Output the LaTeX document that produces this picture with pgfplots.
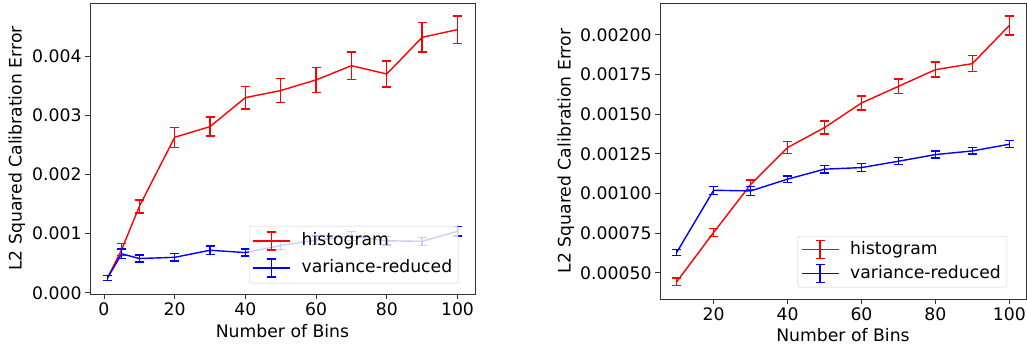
\documentclass[border=0pt]{standalone}
\usepackage{fontspec}
\setmainfont{DejaVu Sans}
\usepackage{pgfplots}
\pgfplotsset{compat=1.18}
\newcommand{\fs}{\fontsize{17.3}{20}\selectfont}
\pgfplotsset{
  myaxis/.style={
    scale only axis,
    axis line style={black!80, line width=0.8bp},
    tick align=outside,
    tick pos=left,
    major tick length=5bp,
    tick style={black!80, line width=0.8bp},
    tick label style={font=\fs},
    /pgf/number format/assume math mode=true,
    scaled y ticks=false,
    xtick={0,20,40,60,80,100},
    xlabel={Number of Bins},
    ylabel={L2 Squared Calibration Error},
    legend cell align=left,
    legend style={font=\fs, draw=black!20, rounded corners=2bp, fill=white,
      fill opacity=0.8, text opacity=1,
      inner xsep=3bp, inner ysep=1.5bp, column sep=8bp},
    legend image code/.code={
      \draw[line width=1.4bp, ##1] (0bp,0bp) -- (37bp,0bp);
      \draw[line width=1.4bp, ##1] (18.5bp,-9bp) -- (18.5bp,9bp);
      \draw[line width=1.4bp, ##1] (14bp,-9bp) -- (23bp,-9bp);
      \draw[line width=1.4bp, ##1] (14bp,9bp) -- (23bp,9bp);
    },
  },
  eb/.style={draw=#1, line width=1.4bp, mark=none,
    /pgfplots/error bars/y dir=both, /pgfplots/error bars/y explicit,
    /pgfplots/error bars/error bar style={line width=1.4bp, draw=#1},
    /pgfplots/error bars/error mark options={rotate=90, mark size=4.5bp, line width=1.4bp, draw=#1}},
}
\begin{document}
\begin{tikzpicture}
\useasboundingbox (0bp,0bp) rectangle (1027bp,-345bp);
\begin{axis}[myaxis,
  at={(90bp,-3bp)}, anchor=north west,
  width=385bp, height=291bp,
  xmin=-3.95, xmax=104.95, ymin=-0.00002, ymax=0.0049,
  ytick={0,0.001,0.002,0.003,0.004},
  yticklabel style={/pgf/number format/.cd, fixed, fixed zerofill, precision=3},
  every axis y label/.style={at={(axis description cs:-0.19,0.5)}, rotate=90, anchor=center, font=\fs},
  every axis x label/.style={at={(axis description cs:0.5,-0.151)}, anchor=base, font=\fs},
  legend style={at={(axis description cs:0.413,0.2337)}, anchor=north west,
    nodes={inner xsep=3bp, inner ysep=5bp, text height=13bp, text depth=4bp}},
]
\addplot[eb=red] coordinates {
 (1,0.00025) +- (0,0.00004)
 (5,0.00073) +- (0,0.00010)
 (10,0.00146) +- (0,0.00011)
 (20,0.00263) +- (0,0.00017)
 (30,0.00281) +- (0,0.00016)
 (40,0.00330) +- (0,0.00019)
 (50,0.00342) +- (0,0.00020)
 (60,0.00360) +- (0,0.00021)
 (70,0.00384) +- (0,0.00023)
 (80,0.00370) +- (0,0.00022)
 (90,0.00432) +- (0,0.00025)
 (100,0.00445) +- (0,0.00023)
};
\addlegendentry{histogram}
\addplot[eb=blue] coordinates {
 (1,0.00025) +- (0,0.00004)
 (5,0.00066) +- (0,0.00008)
 (10,0.00058) +- (0,0.00006)
 (20,0.00060) +- (0,0.00006)
 (30,0.00072) +- (0,0.00007)
 (40,0.00068) +- (0,0.00006)
 (50,0.00080) +- (0,0.00007)
 (60,0.00089) +- (0,0.00007)
 (70,0.00096) +- (0,0.00008)
 (80,0.00088) +- (0,0.00007)
 (90,0.00087) +- (0,0.00007)
 (100,0.00104) +- (0,0.00008)
};
\addlegendentry{variance-reduced}
\end{axis}
\begin{axis}[myaxis,
  at={(660bp,-3bp)}, anchor=north west,
  width=366bp, height=296bp,
  xmin=5.5, xmax=104.5, ymin=0.000335, ymax=0.0022,
  xtick={20,40,60,80,100},
  ytick={0.0005,0.00075,0.001,0.00125,0.0015,0.00175,0.002},
  yticklabel style={/pgf/number format/.cd, fixed, fixed zerofill, precision=5},
  every axis y label/.style={at={(axis description cs:-0.257,0.5)}, rotate=90, anchor=center, font=\fs},
  every axis x label/.style={at={(axis description cs:0.5,-0.142)}, anchor=base, font=\fs},
  legend style={at={(axis description cs:0.376,0.213)}, anchor=north west,
    nodes={inner xsep=3bp, inner ysep=3.5bp, text height=13bp, text depth=4bp}},
]
\addplot[eb=red] coordinates {
 (10,0.000443) +- (0,0.000024)
 (20,0.000754) +- (0,0.000026)
 (30,0.001056) +- (0,0.000030)
 (40,0.001289) +- (0,0.000037)
 (50,0.001415) +- (0,0.000041)
 (60,0.001570) +- (0,0.000045)
 (70,0.001675) +- (0,0.000047)
 (80,0.001780) +- (0,0.000047)
 (90,0.001818) +- (0,0.000050)
 (100,0.002059) +- (0,0.000060)
};
\addlegendentry{histogram}
\addplot[eb=blue] coordinates {
 (10,0.000628) +- (0,0.000020)
 (20,0.001020) +- (0,0.000025)
 (30,0.001016) +- (0,0.000028)
 (40,0.001090) +- (0,0.000020)
 (50,0.001153) +- (0,0.000025)
 (60,0.001163) +- (0,0.000025)
 (70,0.001203) +- (0,0.000022)
 (80,0.001245) +- (0,0.000022)
 (90,0.001268) +- (0,0.000020)
 (100,0.001310) +- (0,0.000022)
};
\addlegendentry{variance-reduced}
\end{axis}
\end{tikzpicture}
\end{document}
